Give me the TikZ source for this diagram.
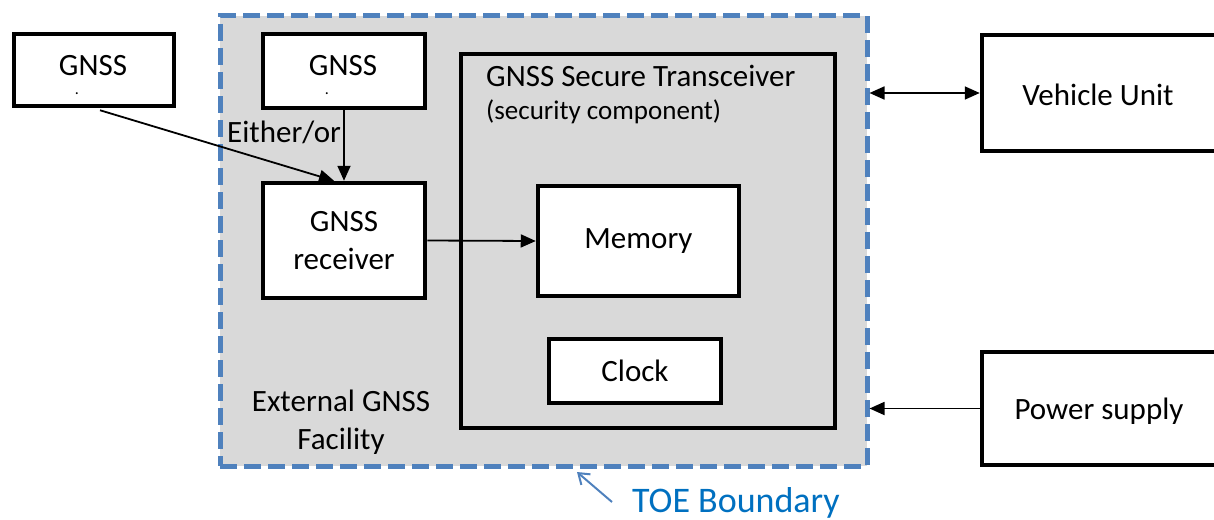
\documentclass[tikz,border=0pt]{standalone}
\usepackage{fontspec}
\setmainfont{Carlito}
\usetikzlibrary{arrows.meta,calc}
\definecolor{bnd}{HTML}{4F81BD}
\definecolor{toeblue}{HTML}{0070C0}
\definecolor{fillgray}{HTML}{D9D9D9}
\begin{document}
\begin{tikzpicture}[x=1pt,y=-1pt,
  box/.style={draw, line width=4.5pt, fill=white, inner sep=0pt},
  txt/.style={font=\fontsize{31}{38}\selectfont, inner sep=0pt, align=center},
  smalltxt/.style={font=\fontsize{27}{32}\selectfont, inner sep=0pt},
  dottxt/.style={font=\fontsize{16}{16}\selectfont, inner sep=0pt},
  arr/.style={line width=1.8pt, -{Triangle[length=15pt,width=13pt]}},
  darr/.style={line width=1.8pt, {Triangle[length=15pt,width=13pt]}-{Triangle[length=15pt,width=13pt]}}]
\useasboundingbox (0,0) rectangle (1214,519);
\clip (0,0) rectangle (1214,519);
% TOE boundary
\node[draw=bnd, fill=fillgray, line width=5pt, dash pattern=on 17pt off 7pt,
      minimum width=647pt, minimum height=450pt, inner sep=0pt] (toe) at (543.5,241) {};
% left GNSS
\node[box, minimum width=160pt, minimum height=72pt] (gnssL) at (94,70) {};
\node[txt] (gnssLt) at (93,66) {GNSS};
\node[dottxt] (gnssLd) at (77,94) {.};
% inner GNSS
\node[box, minimum width=162pt, minimum height=74pt] (gnssI) at (344,71) {};
\node[txt] (gnssIt) at (343,66) {GNSS};
\node[dottxt] (gnssId) at (327,94) {.};
% receiver
\node[box, minimum width=162pt, minimum height=115pt, txt] (rcv) at (344,240.5) {GNSS\\receiver};
% transceiver
\node[draw, line width=4.5pt, inner sep=0pt, minimum width=374pt, minimum height=374pt] (trx) at (648,241) {};
\node[txt, anchor=west] (trxt) at (486,76) {GNSS Secure Transceiver};
\node[smalltxt, anchor=west] (trxs) at (486,112) {(security component)};
% memory and clock
\node[box, txt, minimum width=201pt, minimum height=110pt] (mem) at (638.5,241) {Memory};
\node[box, txt, minimum width=172pt, minimum height=64pt] (clk) at (635,371) {Clock};
% external facility label
\node[txt] (ext) at (341,422) {External GNSS\\Facility};
\node[txt, anchor=base west] (either) at (227,142) {Either/or};
% vehicle unit & power
\node[box, minimum width=260pt, minimum height=116pt] (vu) at (1112,93) {};
\node[txt] (vut) at (1098,95) {Vehicle Unit};
\node[box, minimum width=260pt, minimum height=113pt] (ps) at (1112,408.5) {};
\node[txt] (pst) at (1099,411) {Power supply};
% TOE label
\node[font=\fontsize{36}{40}\selectfont, text=toeblue, inner sep=0pt, anchor=base west] (toel) at (632,512) {TOE Boundary};
\coordinate (toetip) at (577,472);
\coordinate (toestart) at (612,502);
% connectors
\draw[arr] ($(gnssL.south)+(6,2)$) -- ($(rcv.north)+(-10,0)$);
\draw[arr] (gnssI.south) -- (rcv.north);
\draw[arr] (rcv.east) -- (mem.west);
\draw[darr] (toe.east |- vu.west) -- (vu.west);
\draw[arr] (ps.west) -- (toe.east |- ps.west);
\draw[line width=2pt, draw=bnd, -{Straight Barb[length=10pt,width=14pt]}] (toestart) -- (toetip);
\end{tikzpicture}
\end{document}
